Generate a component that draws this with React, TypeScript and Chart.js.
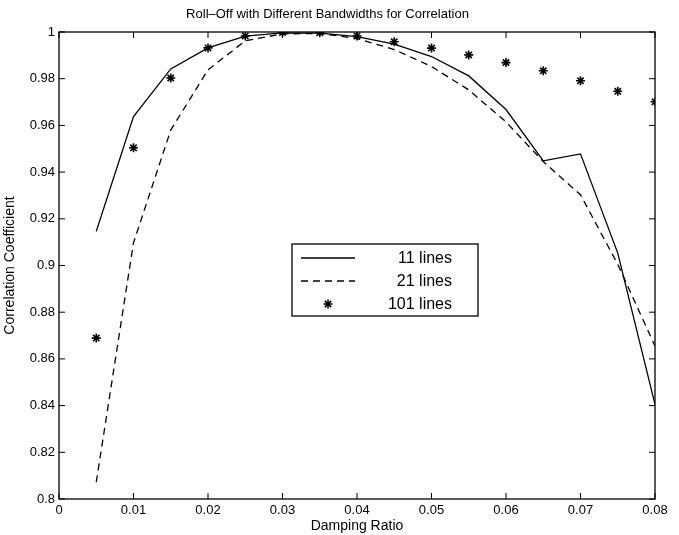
import React, { useEffect, useRef } from "react";
import { Chart, registerables } from "chart.js";

Chart.register(...registerables);

const titleText = "Roll\u2013Off with Different Bandwidths for Correlation";
const xTitle = "Damping Ratio";
const yTitle = "Correlation Coefficient";
const seriesLabels = ["11 lines", "21 lines", "101 lines"];

const dampingRatio = [0.005, 0.01, 0.015, 0.02, 0.025, 0.03, 0.035, 0.04, 0.045, 0.05, 0.055, 0.06, 0.065, 0.07, 0.075, 0.08];
const lines11 = [0.9146, 0.9638, 0.9842, 0.9932, 0.9982, 0.9996, 0.9995, 0.998, 0.9948, 0.9895, 0.9812, 0.9668, 0.9448, 0.9478, 0.9053, 0.8405];
const lines21 = [0.8072, 0.9097, 0.958, 0.9838, 0.9962, 0.9992, 0.9994, 0.9972, 0.9925, 0.9852, 0.9752, 0.9615, 0.9445, 0.9303, 0.9005, 0.8655];
const lines101 = [0.8689, 0.9504, 0.9803, 0.9932, 0.9983, 0.9998, 0.9997, 0.9983, 0.9958, 0.9931, 0.9902, 0.9869, 0.9834, 0.9791, 0.9746, 0.9701];

const xTicks = [0, 0.01, 0.02, 0.03, 0.04, 0.05, 0.06, 0.07, 0.08];
const yTicks = [0.8, 0.82, 0.84, 0.86, 0.88, 0.9, 0.92, 0.94, 0.96, 0.98, 1];

const FONT = "'Liberation Sans', Arial, Helvetica, sans-serif";
const fmt = (v: number) => String(Number(v.toFixed(4)));

const frameTicksPlugin = {
  id: "frameTicks",
  afterDraw(chart: any) {
    const { ctx, chartArea: ca, scales } = chart;
    const xs = scales.x;
    const ys = scales.y;
    const len = 6;
    ctx.save();
    ctx.strokeStyle = "#000";
    ctx.lineWidth = 1.3;
    ctx.strokeRect(ca.left, ca.top, ca.right - ca.left, ca.bottom - ca.top);
    ctx.lineWidth = 1;
    ctx.beginPath();
    xTicks.forEach((v) => {
      const px = xs.getPixelForValue(v);
      ctx.moveTo(px, ca.bottom);
      ctx.lineTo(px, ca.bottom - len);
      ctx.moveTo(px, ca.top);
      ctx.lineTo(px, ca.top + len);
    });
    yTicks.forEach((v) => {
      const py = ys.getPixelForValue(v);
      ctx.moveTo(ca.left, py);
      ctx.lineTo(ca.left + len, py);
      ctx.moveTo(ca.right, py);
      ctx.lineTo(ca.right - len, py);
    });
    ctx.stroke();
    ctx.restore();
  },
};

const boxLegendPlugin = {
  id: "boxLegend",
  afterDraw(chart: any) {
    const { ctx } = chart;
    const bx = 292, by = 244, bw = 186, bh = 72;
    ctx.save();
    ctx.fillStyle = "#fff";
    ctx.fillRect(bx, by, bw, bh);
    ctx.strokeStyle = "#000";
    ctx.lineWidth = 1.3;
    ctx.strokeRect(bx, by, bw, bh);
    ctx.font = `16px ${FONT}`;
    ctx.textBaseline = "middle";
    ctx.textAlign = "right";
    chart.data.datasets.forEach((ds: any, i: number) => {
      const ry = by + 14 + i * 23;
      const x0 = bx + 9, x1 = bx + 63;
      ctx.strokeStyle = "#000";
      ctx.lineWidth = 1.3;
      if (ds.showLine !== false) {
        ctx.setLineDash(ds.borderDash || []);
        ctx.beginPath();
        ctx.moveTo(x0, ry);
        ctx.lineTo(x1, ry);
        ctx.stroke();
        ctx.setLineDash([]);
      } else {
        const cx = (x0 + x1) / 2, r = 4.5;
        ctx.lineWidth = 1.6;
        ctx.beginPath();
        ctx.moveTo(cx - r, ry); ctx.lineTo(cx + r, ry);
        ctx.moveTo(cx, ry - r); ctx.lineTo(cx, ry + r);
        const d = r * 0.707;
        ctx.moveTo(cx - d, ry - d); ctx.lineTo(cx + d, ry + d);
        ctx.moveTo(cx - d, ry + d); ctx.lineTo(cx + d, ry - d);
        ctx.stroke();
      }
      ctx.fillStyle = "#000";
      ctx.fillText(ds.label, bx + bw - 26, ry + 1);
    });
    ctx.restore();
  },
};

export default function App() {
  const ref = useRef<HTMLCanvasElement | null>(null);
  useEffect(() => {
    if (!ref.current) return;
    const pts = (ys: number[]) => dampingRatio.map((x, i) => ({ x, y: ys[i] }));
    const chart = new Chart(ref.current, {
      type: "line",
      data: {
        datasets: [
          { label: seriesLabels[0], data: pts(lines11), borderColor: "#000", borderWidth: 1.3, pointRadius: 0, fill: false, tension: 0 },
          { label: seriesLabels[1], data: pts(lines21), borderColor: "#000", borderWidth: 1.3, borderDash: [7, 5], pointRadius: 0, fill: false, tension: 0 },
          { label: seriesLabels[2], data: pts(lines101), showLine: false, borderColor: "#000", backgroundColor: "#000", pointStyle: "star", pointRadius: 4.5, pointBorderWidth: 1.6, pointBorderColor: "#000" },
        ],
      },
      options: {
        animation: false,
        responsive: false,
        events: [],
        layout: { padding: { left: 0, right: 24, top: 0, bottom: 0 } },
        plugins: {
          legend: { display: false },
          tooltip: { enabled: false },
          title: {
            display: true,
            text: titleText,
            color: "#000",
            font: { family: FONT, size: 13, weight: "normal", lineHeight: 1.2 },
            padding: { top: 7, bottom: 9.4 },
          },
        },
        scales: {
          x: {
            type: "linear",
            min: 0,
            max: 0.08,
            afterBuildTicks: (s: any) => { s.ticks = xTicks.map((v) => ({ value: v })); },
            afterFit: (s: any) => { s.height = 36; },
            grid: { display: false, drawTicks: false },
            border: { display: false },
            ticks: { color: "#000", padding: 4, maxRotation: 0, font: { family: FONT, size: 13 }, callback: (v: any) => fmt(Number(v)) },
            title: { display: true, text: xTitle, color: "#000", font: { family: FONT, size: 14, lineHeight: 1.2 }, padding: { top: 3, bottom: 0 } },
          },
          y: {
            type: "linear",
            min: 0.8,
            max: 1,
            afterBuildTicks: (s: any) => { s.ticks = yTicks.map((v) => ({ value: v })); },
            afterFit: (s: any) => { s.width = 59; },
            grid: { display: false, drawTicks: false },
            border: { display: false },
            ticks: { color: "#000", padding: 4, font: { family: FONT, size: 13 }, callback: (v: any) => fmt(Number(v)) },
            title: { display: true, text: yTitle, color: "#000", font: { family: FONT, size: 14, lineHeight: 1.2 }, padding: { top: 2, bottom: 0 } },
          },
        },
      },
      plugins: [frameTicksPlugin, boxLegendPlugin],
    } as any);
    return () => chart.destroy();
  }, []);
  return (
    <div style={{ position: "absolute", left: 0, top: 0, width: 679, height: 535, background: "#fff" }}>
      <canvas ref={ref} width={679} height={535} style={{ display: "block" }} />
    </div>
  );
}
